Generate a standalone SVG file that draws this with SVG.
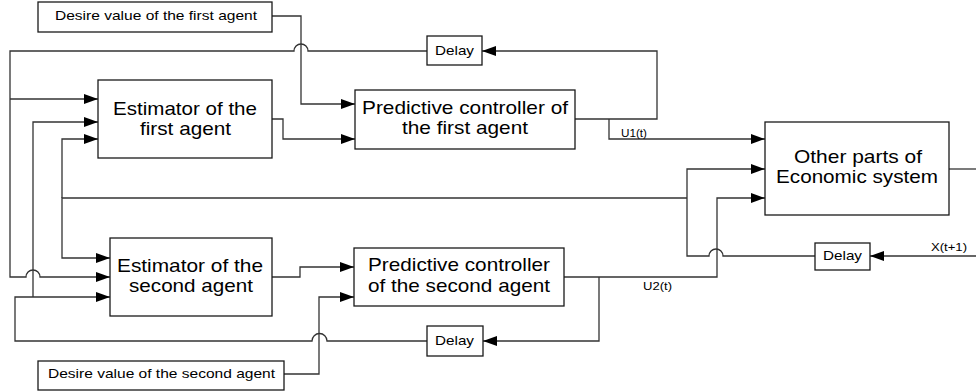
<svg xmlns="http://www.w3.org/2000/svg" width="976" height="392" viewBox="0 0 976 392">
<style>
.box{fill:#fff;stroke:#1a1a1a;stroke-width:1.3}
.ln{fill:none;stroke:#333;stroke-width:1.3}
.big{font-family:"Liberation Sans",Arial,sans-serif;font-size:19px;fill:#000;text-anchor:middle}
.sm{font-family:"Liberation Sans",Arial,sans-serif;font-size:13px;fill:#000;text-anchor:middle}
.tiny{font-family:"Liberation Sans",Arial,sans-serif;font-size:10px;fill:#000;text-anchor:middle}
</style>
<defs>
<marker id="arr" markerUnits="userSpaceOnUse" markerWidth="14" markerHeight="12" viewBox="0 0 14 12" refX="14" refY="6" orient="auto">
<path d="M0,1 L14,6 L0,11 Z" fill="#000"/>
</marker>
</defs>
<rect width="976" height="392" fill="#fff"/>
<g id="connectors">
<path class="ln" d="M272,16 H301 V104 H355" marker-end="url(#arr)"/>
<path class="ln" d="M272,119 H283 V139 H355" marker-end="url(#arr)"/>
<path class="ln" d="M575,119 H657 V51 H482" marker-end="url(#arr)"/>
<path class="ln" d="M609,119 V139 H765" marker-end="url(#arr)"/>
<path class="ln" d="M427,51 H308 A7,7 0 0 0 294,51 H10 V277 H26 A7,7 0 0 1 40,277 H110" marker-end="url(#arr)"/>
<path class="ln" d="M10,99 H98" marker-end="url(#arr)"/>
<path class="ln" d="M427,341 H327 A7,7 0 0 0 312,341 H15 V297 H110" marker-end="url(#arr)"/>
<path class="ln" d="M33,297 V122 H98" marker-end="url(#arr)"/>
<path class="ln" d="M284,374 H319 V297 H354" marker-end="url(#arr)"/>
<path class="ln" d="M272,277 H300 V267 H354" marker-end="url(#arr)"/>
<path class="ln" d="M564,277 H717 V198 H765" marker-end="url(#arr)"/>
<path class="ln" d="M599,277 V341 H483" marker-end="url(#arr)"/>
<path class="ln" d="M976,256 H870" marker-end="url(#arr)"/>
<path class="ln" d="M815,256 H723 A7,7 0 0 0 709,256 H687 V169 H765" marker-end="url(#arr)"/>
<path class="ln" d="M687,198 H62 V258 H110" marker-end="url(#arr)"/>
<path class="ln" d="M62,198 V139 H98" marker-end="url(#arr)"/>
<path class="ln" d="M949,169 H976"/>
<text class="tiny" x="634" y="137" textLength="26" lengthAdjust="spacingAndGlyphs">U1(t)</text>
<text class="tiny" x="657.5" y="290" textLength="29" lengthAdjust="spacingAndGlyphs">U2(t)</text>
<text class="tiny" x="949" y="251" textLength="36" lengthAdjust="spacingAndGlyphs">X(t+1)</text>
</g>
<g id="desire1">
<rect class="box" x="38" y="2" width="234" height="30"/>
<text class="sm" x="156" y="20" textLength="202" lengthAdjust="spacingAndGlyphs">Desire value of the first agent</text>
</g>
<g id="desire2">
<rect class="box" x="38" y="361" width="246" height="29"/>
<text class="sm" x="161.5" y="378" textLength="227" lengthAdjust="spacingAndGlyphs">Desire value of the second agent</text>
</g>
<g id="delay1">
<rect class="box" x="427" y="36" width="55" height="29"/>
<text class="sm" x="454.5" y="55" textLength="39" lengthAdjust="spacingAndGlyphs">Delay</text>
</g>
<g id="delay2">
<rect class="box" x="427" y="326" width="56" height="30"/>
<text class="sm" x="454.5" y="345" textLength="39" lengthAdjust="spacingAndGlyphs">Delay</text>
</g>
<g id="delay3">
<rect class="box" x="815" y="243" width="55" height="27"/>
<text class="sm" x="842.5" y="260" textLength="39" lengthAdjust="spacingAndGlyphs">Delay</text>
</g>
<g id="estimator1">
<rect class="box" x="98" y="80" width="174" height="78"/>
<text class="big" x="185" y="115" textLength="144" lengthAdjust="spacingAndGlyphs">Estimator of the</text>
<text class="big" x="185.5" y="135" textLength="91" lengthAdjust="spacingAndGlyphs">first agent</text>
</g>
<g id="controller1">
<rect class="box" x="355" y="90" width="220" height="59"/>
<text class="big" x="465" y="114" textLength="206" lengthAdjust="spacingAndGlyphs">Predictive controller of</text>
<text class="big" x="465" y="134" textLength="126" lengthAdjust="spacingAndGlyphs">the first agent</text>
</g>
<g id="economy">
<rect class="box" x="765" y="122" width="184" height="93"/>
<text class="big" x="858" y="163" textLength="128" lengthAdjust="spacingAndGlyphs">Other parts of</text>
<text class="big" x="857" y="183" textLength="162" lengthAdjust="spacingAndGlyphs">Economic system</text>
</g>
<g id="estimator2">
<rect class="box" x="110" y="238" width="162" height="78"/>
<text class="big" x="190" y="272" textLength="146" lengthAdjust="spacingAndGlyphs">Estimator of the</text>
<text class="big" x="191" y="292" textLength="124" lengthAdjust="spacingAndGlyphs">second agent</text>
</g>
<g id="controller2">
<rect class="box" x="354" y="248" width="210" height="58"/>
<text class="big" x="459" y="271" textLength="182" lengthAdjust="spacingAndGlyphs">Predictive controller</text>
<text class="big" x="459" y="292" textLength="182" lengthAdjust="spacingAndGlyphs">of the second agent</text>
</g>
</svg>
